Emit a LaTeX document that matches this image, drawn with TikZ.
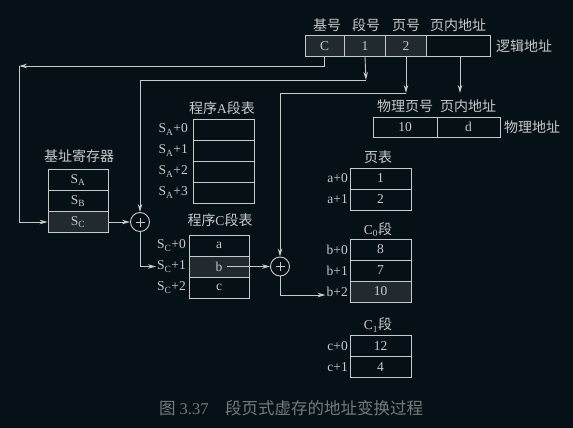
\documentclass[tikz,border=0pt]{standalone}
\usepackage{fontspec}
\setmainfont{Liberation Serif}
\newfontfamily\cjk{Noto Sans CJK SC}
\newcommand{\zh}[1]{{\fontsize{14}{16}\selectfont\cjk #1}}
\usetikzlibrary{arrows.meta}
\definecolor{bgc}{RGB}{6,17,23}
\definecolor{lc}{RGB}{200,202,202}
\definecolor{hl}{RGB}{32,42,47}
\definecolor{capc}{RGB}{115,123,125}
\tikzset{
  cell/.style={draw=lc, line width=0.9pt, inner sep=0pt, minimum height=21pt, text=lc, font=\fontsize{13.5}{15}\selectfont},
  lbl/.style={text=lc, inner sep=0pt, font=\fontsize{13.5}{15}\selectfont},
  hlcell/.style={cell, fill=hl},
  arr/.style={draw=lc, line width=0.9pt, -{Stealth[length=8pt,width=4.5pt]}},
  ln/.style={draw=lc, line width=0.9pt},
  plusc/.style={circle, draw=lc, line width=0.9pt, minimum size=19pt, inner sep=0pt},
}
\begin{document}
\begin{tikzpicture}[x=1pt,y=-1pt]
\fill[bgc] (0,0) rectangle (573,428);
\useasboundingbox (0,0) rectangle (573,428);
% logical address
\node[cell, fill=hl, minimum width=39pt] (lC) at (324.5,46) {C};
\node[cell, fill=hl, minimum width=41pt] (l1) at (365,46) {1};
\node[cell, fill=hl, minimum width=41pt] (l2) at (406,46) {2};
\node[cell, minimum width=64pt] (lOff) at (458,46) {};
\node[lbl] (t1) at (327,25) {\zh{基号}};
\node[lbl] (t2) at (366,25) {\zh{段号}};
\node[lbl] (t3) at (406,25) {\zh{页号}};
\node[lbl] (t4) at (458,25) {\zh{页内地址}};
\node[lbl, anchor=west] (t5) at (496,46) {\zh{逻辑地址}};
% physical address
\node[cell, minimum width=64pt, minimum height=20pt] (p10) at (405,127) {10};
\node[cell, minimum width=63pt, minimum height=20pt] (pd) at (468.5,127) {d};
\node[lbl] (t6) at (405,106) {\zh{物理页号}};
\node[lbl] (t7) at (468,106) {\zh{页内地址}};
\node[lbl, anchor=west] (t8) at (504,127) {\zh{物理地址}};
% page table
\node[lbl] (t9) at (378,157) {\zh{页表}};
\node[cell, minimum width=61pt] (pt0) at (380.5,178.5) {1};
\node[cell, minimum width=61pt] (pt1) at (380.5,199.5) {2};
\node[lbl, anchor=east] (a0) at (348,178.5) {a+0};
\node[lbl, anchor=east] (a1) at (348,199.5) {a+1};
% C0 segment
\node[lbl] (t10) at (378,230) {C\textsubscript{0}\zh{段}};
\node[cell, minimum width=61pt] (c00) at (380.5,249.5) {8};
\node[cell, minimum width=61pt] (c01) at (380.5,270.5) {7};
\node[hlcell, minimum width=61pt] (c02) at (380.5,291.5) {10};
\node[lbl, anchor=east] (b0) at (348,249.5) {b+0};
\node[lbl, anchor=east] (b1) at (348,270.5) {b+1};
\node[lbl, anchor=east] (b2) at (348,291.5) {b+2};
% C1 segment
\node[lbl] (t11) at (378,325) {C\textsubscript{1}\zh{段}};
\node[cell, minimum width=61pt] (c10) at (380.5,346) {12};
\node[cell, minimum width=61pt] (c11) at (380.5,367) {4};
\node[lbl, anchor=east] (cc0) at (348,346) {c+0};
\node[lbl, anchor=east] (cc1) at (348,367) {c+1};
% program A segment table
\node[lbl] (t12) at (222,108) {\zh{程序}A\zh{段表}};
\node[cell, minimum width=61pt] (sa0) at (223.5,129.5) {};
\node[cell, minimum width=61pt] (sa1) at (223.5,150.5) {};
\node[cell, minimum width=61pt] (sa2) at (223.5,171.5) {};
\node[cell, minimum width=61pt] (sa3) at (223.5,192.5) {};
\node[lbl, anchor=east] (la0) at (188,129.5) {S\textsubscript{A}+0};
\node[lbl, anchor=east] (la1) at (188,150.5) {S\textsubscript{A}+1};
\node[lbl, anchor=east] (la2) at (188,171.5) {S\textsubscript{A}+2};
\node[lbl, anchor=east] (la3) at (188,192.5) {S\textsubscript{A}+3};
% base register
\node[lbl] (t13) at (79,156) {\zh{基址寄存器}};
\node[cell, minimum width=60pt] (SA) at (78,180) {S\textsubscript{A}};
\node[cell, minimum width=60pt] (SB) at (78,201) {S\textsubscript{B}};
\node[hlcell, minimum width=60pt] (SC) at (78,222) {S\textsubscript{C}};
% program C segment table
\node[lbl] (t14) at (220,220) {\zh{程序}C\zh{段表}};
\node[cell, minimum width=60pt] (sc0) at (219,245.5) {a};
\node[hlcell, minimum width=60pt] (sc1) at (219,266.5) {b};
\node[cell, minimum width=60pt] (sc2) at (219,287.5) {c};
\node[lbl, anchor=east] (lc0) at (186,245.5) {S\textsubscript{C}+0};
\node[lbl, anchor=east] (lc1) at (186,266.5) {S\textsubscript{C}+1};
\node[lbl, anchor=east] (lc2) at (186,287.5) {S\textsubscript{C}+2};
% adders
\node[plusc] (plus1) at (140,222) {};
\node[plusc] (plus2) at (280,266.5) {};
\foreach \p in {plus1,plus2}{
  \draw[ln, line width=0.7pt] ([xshift=-4.5pt]\p.center) -- ([xshift=4.5pt]\p.center);
  \draw[ln, line width=0.7pt] ([yshift=-4.5pt]\p.center) -- ([yshift=4.5pt]\p.center);
}
% connectors
\coordinate (k1) at (19,66);
\coordinate (k2) at (366,80);
\coordinate (k3) at (406,93);
\coordinate (k4) at (460,93);
\draw[arr] (lC.south) |- (k1);
\draw[arr] (k1) |- (SC.west);
\draw[arr] (l1.south) -- (k2);
\draw[arr] (k2) -| (plus1.north);
\draw[arr] (l2.south) -- (k3);
\draw[arr] (k3) -| (plus2.north);
\draw[arr] (lOff.south -| k4) -- (k4);
\draw[arr] (SC.east) -- (plus1.west);
\draw[arr] (plus1.south) |- ([xshift=-1pt]lc1.west);
\draw[arr] ([xshift=8pt]sc1.center) -- (plus2.west);
\draw[arr] (plus2.south) |- ([xshift=-1pt]b2.west |- 0,295);
% caption
\node[text=capc, inner sep=0pt, font=\fontsize{16.5}{18}\selectfont] (cap) at (291,408) {{\cjk 图} 3.37\hspace{1em}{\cjk 段页式虚存的地址变换过程}};
\end{tikzpicture}
\end{document}
